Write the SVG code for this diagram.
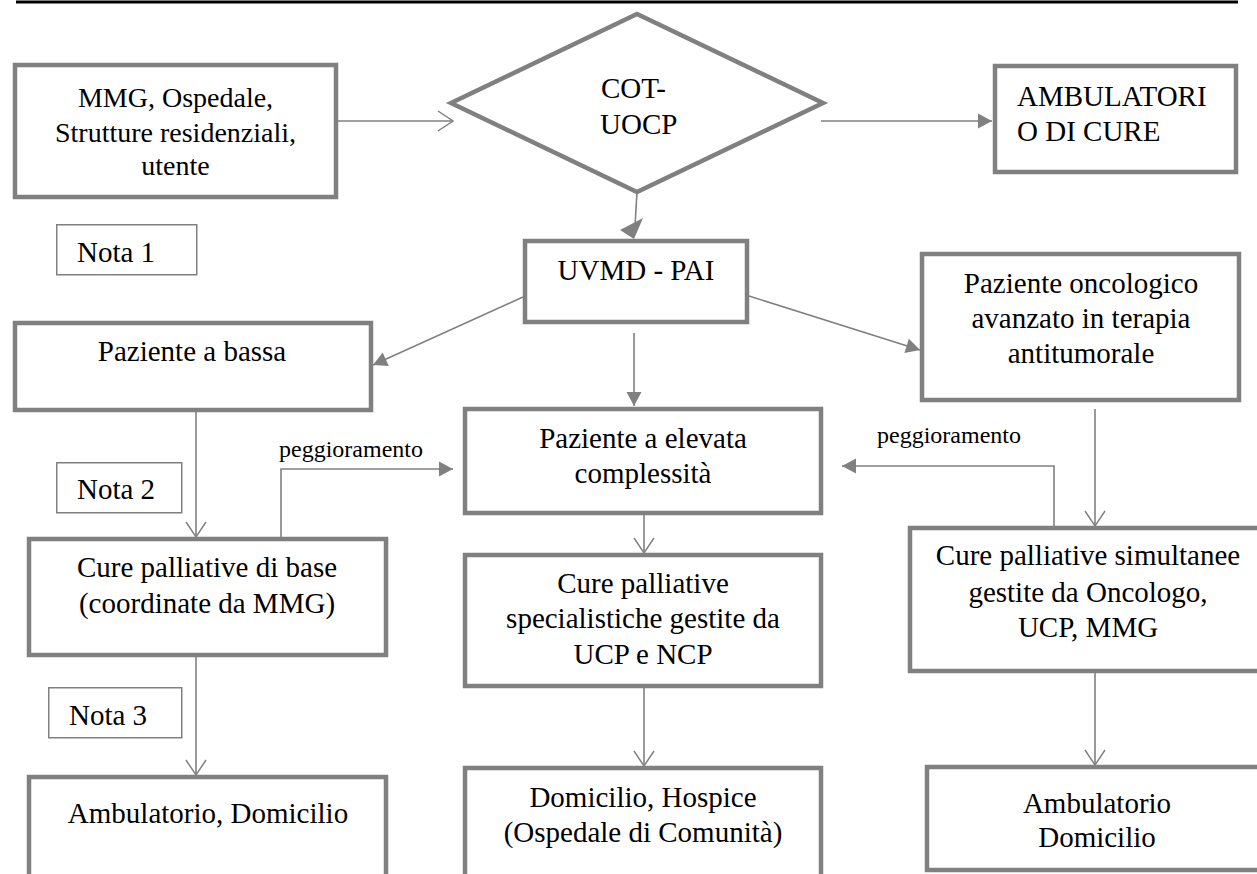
<svg xmlns="http://www.w3.org/2000/svg" width="1257" height="874" viewBox="0 0 1257 874">
<defs>
<marker id="fill" markerUnits="userSpaceOnUse" markerWidth="14" markerHeight="15" refX="14" refY="7.5" orient="auto" overflow="visible">
<path d="M0,0 L14,7.5 L0,15 z" fill="#808080"/>
</marker>
<marker id="open" markerUnits="userSpaceOnUse" markerWidth="16" markerHeight="22" refX="15.5" refY="10.5" orient="auto" overflow="visible">
<path d="M0.5,0.5 L15.5,10.5 L0.5,20.5" fill="none" stroke="#808080" stroke-width="1.5"/>
</marker>
</defs>
<rect width="1257" height="874" fill="#fff"/>
<line x1="16" y1="2" x2="1238" y2="2" stroke="#000" stroke-width="3"/>

<g id="connectors" fill="none" stroke="#808080" stroke-width="1.6">
<line x1="338" y1="121" x2="453" y2="121" marker-end="url(#open)"/>
<line x1="821" y1="121" x2="992" y2="121" marker-end="url(#fill)"/>
<line x1="637" y1="192" x2="635" y2="226"/>
<polygon points="643,218 634,239 620,230" fill="#808080" stroke="none"/>
<line x1="523" y1="297" x2="373" y2="365" marker-end="url(#fill)"/>
<line x1="634" y1="333" x2="634" y2="406" marker-end="url(#fill)"/>
<line x1="749" y1="296" x2="920" y2="350" marker-end="url(#fill)"/>
<line x1="196" y1="412" x2="196" y2="537" marker-end="url(#open)"/>
<line x1="196" y1="657" x2="196" y2="775" marker-end="url(#open)"/>
<polyline points="281,537 281,469 453,469" marker-end="url(#fill)"/>
<line x1="644" y1="504" x2="644" y2="553" marker-end="url(#open)"/>
<line x1="644" y1="688" x2="644" y2="766" marker-end="url(#open)"/>
<line x1="1095" y1="409" x2="1095" y2="526" marker-end="url(#open)"/>
<polyline points="1054,526 1054,466 842,466" marker-end="url(#fill)"/>
<line x1="1095" y1="673" x2="1095" y2="765" marker-end="url(#open)"/>
<text x="279" y="457" fill="#000" stroke="none" style="font-family:'Liberation Serif',serif;font-size:24px">peggioramento</text>
<text x="877" y="443" fill="#000" stroke="none" style="font-family:'Liberation Serif',serif;font-size:24px">peggioramento</text>
</g>

<g id="origine">
<rect x="15" y="65" width="321" height="132" fill="#fff" stroke="#808080" stroke-width="4.5"/>
<text x="175.5" y="107" text-anchor="middle" style="font-family:'Liberation Serif',serif;font-size:28px">MMG, Ospedale,</text>
<text x="175.5" y="142" text-anchor="middle" style="font-family:'Liberation Serif',serif;font-size:28px">Strutture residenziali,</text>
<text x="175.5" y="175" text-anchor="middle" style="font-family:'Liberation Serif',serif;font-size:28px">utente</text>
</g>

<g id="cot">
<polygon points="451,103 637,14 823,103 637,192" fill="#fff" stroke="#808080" stroke-width="4.5"/>
<text x="601" y="98" style="font-family:'Liberation Serif',serif;font-size:29px">COT-</text>
<text x="600" y="134" style="font-family:'Liberation Serif',serif;font-size:29px">UOCP</text>
</g>

<g id="ambulatori">
<rect x="995" y="66" width="241" height="106" fill="#fff" stroke="#808080" stroke-width="4.5"/>
<text x="1017" y="106" style="font-family:'Liberation Serif',serif;font-size:29px">AMBULATORI</text>
<text x="1017" y="141" style="font-family:'Liberation Serif',serif;font-size:29px">O DI CURE</text>
</g>

<g id="nota1">
<rect x="56.75" y="224.75" width="140" height="50" fill="#fff" stroke="#808080" stroke-width="1.5"/>
<text x="77" y="262" style="font-family:'Liberation Serif',serif;font-size:29px">Nota 1</text>
</g>

<g id="uvmd">
<rect x="525" y="241" width="222" height="81" fill="#fff" stroke="#808080" stroke-width="4.5"/>
<text x="636" y="280" text-anchor="middle" style="font-family:'Liberation Serif',serif;font-size:29px">UVMD - PAI</text>
</g>

<g id="bassa">
<rect x="15" y="323" width="356" height="87" fill="#fff" stroke="#808080" stroke-width="4.5"/>
<text x="192" y="361" text-anchor="middle" style="font-family:'Liberation Serif',serif;font-size:29px">Paziente a bassa</text>
</g>

<g id="oncologico">
<rect x="922" y="254" width="317" height="146" fill="#fff" stroke="#808080" stroke-width="4.5"/>
<text x="1081" y="293" text-anchor="middle" style="font-family:'Liberation Serif',serif;font-size:29px">Paziente oncologico</text>
<text x="1081" y="328" text-anchor="middle" style="font-family:'Liberation Serif',serif;font-size:29px">avanzato in terapia</text>
<text x="1081" y="363" text-anchor="middle" style="font-family:'Liberation Serif',serif;font-size:29px">antitumorale</text>
</g>

<g id="nota2">
<rect x="56.75" y="462.75" width="125" height="50" fill="#fff" stroke="#808080" stroke-width="1.5"/>
<text x="77" y="499" style="font-family:'Liberation Serif',serif;font-size:29px">Nota 2</text>
</g>

<g id="elevata">
<rect x="465" y="409" width="356" height="104" fill="#fff" stroke="#808080" stroke-width="4.5"/>
<text x="643" y="448" text-anchor="middle" style="font-family:'Liberation Serif',serif;font-size:29px">Paziente a elevata</text>
<text x="643" y="483" text-anchor="middle" style="font-family:'Liberation Serif',serif;font-size:29px">complessità</text>
</g>

<g id="base">
<rect x="29" y="539" width="357" height="116" fill="#fff" stroke="#808080" stroke-width="4.5"/>
<text x="207" y="577" text-anchor="middle" style="font-family:'Liberation Serif',serif;font-size:29px">Cure palliative di base</text>
<text x="207" y="613" text-anchor="middle" style="font-family:'Liberation Serif',serif;font-size:29px">(coordinate da MMG)</text>
</g>

<g id="specialistiche">
<rect x="465" y="555" width="356" height="131" fill="#fff" stroke="#808080" stroke-width="4.5"/>
<text x="643" y="593" text-anchor="middle" style="font-family:'Liberation Serif',serif;font-size:29px">Cure palliative</text>
<text x="643" y="628" text-anchor="middle" style="font-family:'Liberation Serif',serif;font-size:29px">specialistiche gestite da</text>
<text x="643" y="664" text-anchor="middle" style="font-family:'Liberation Serif',serif;font-size:29px">UCP e NCP</text>
</g>

<g id="simultanee">
<rect x="910" y="528" width="360" height="143" fill="#fff" stroke="#808080" stroke-width="4.5"/>
<text x="1088" y="565" text-anchor="middle" style="font-family:'Liberation Serif',serif;font-size:29px">Cure palliative simultanee</text>
<text x="1088" y="602" text-anchor="middle" style="font-family:'Liberation Serif',serif;font-size:29px">gestite da Oncologo,</text>
<text x="1088" y="637" text-anchor="middle" style="font-family:'Liberation Serif',serif;font-size:29px">UCP, MMG</text>
</g>

<g id="nota3">
<rect x="48.75" y="687.75" width="133" height="50" fill="#fff" stroke="#808080" stroke-width="1.5"/>
<text x="69" y="725" style="font-family:'Liberation Serif',serif;font-size:29px">Nota 3</text>
</g>

<g id="amb-dom-sx">
<rect x="29" y="777" width="357" height="110" fill="#fff" stroke="#808080" stroke-width="4.5"/>
<text x="208" y="823" text-anchor="middle" style="font-family:'Liberation Serif',serif;font-size:29px">Ambulatorio, Domicilio</text>
</g>

<g id="domicilio-hospice">
<rect x="465" y="768" width="356" height="120" fill="#fff" stroke="#808080" stroke-width="4.5"/>
<text x="643" y="807" text-anchor="middle" style="font-family:'Liberation Serif',serif;font-size:29px">Domicilio, Hospice</text>
<text x="643" y="842" text-anchor="middle" style="font-family:'Liberation Serif',serif;font-size:29px">(Ospedale di Comunità)</text>
</g>

<g id="amb-dom-dx">
<rect x="927" y="767" width="340" height="103" fill="#fff" stroke="#808080" stroke-width="4.5"/>
<text x="1097" y="813" text-anchor="middle" style="font-family:'Liberation Serif',serif;font-size:29px">Ambulatorio</text>
<text x="1097" y="847" text-anchor="middle" style="font-family:'Liberation Serif',serif;font-size:29px">Domicilio</text>
</g>
</svg>
